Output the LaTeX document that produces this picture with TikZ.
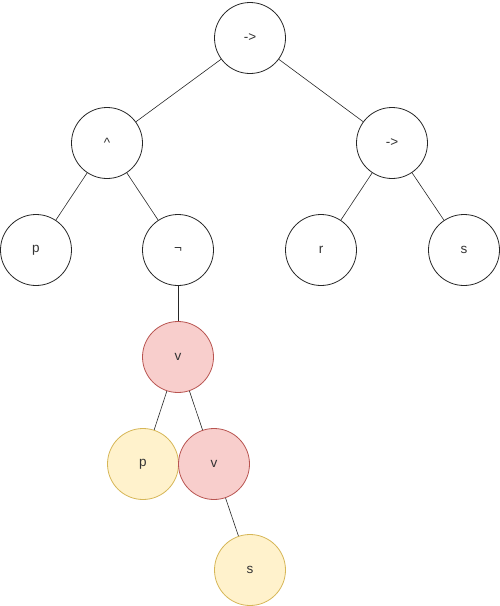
\documentclass[tikz,border=0pt]{standalone}
\usepackage{fontspec}
\setmainfont{Liberation Sans}
\definecolor{redfill}{HTML}{F8CECC}
\definecolor{redline}{HTML}{B85450}
\definecolor{yelfill}{HTML}{FFF2CC}
\definecolor{yelline}{HTML}{D6B656}
\definecolor{txt}{HTML}{333333}
\begin{document}
\begin{tikzpicture}[x=1pt,y=-1pt,
  tnode/.style={circle,draw=black!85,line width=0.8pt,minimum size=71pt,inner sep=0pt,font=\fontsize{13.5}{15}\selectfont,text=txt,fill=white},
  rednode/.style={tnode,fill=redfill,draw=redline},
  yelnode/.style={tnode,fill=yelfill,draw=yelline},
  edge/.style={draw=black!85,line width=0.6pt}]
\useasboundingbox (0,0) rectangle (500,606);
\node[tnode] (root) at (250,38) {->};
\node[tnode] (and) at (107,143) {\^{}};
\node[tnode] (imp) at (392,143) {->};
\node[tnode] (p1) at (36,250) {p};
\node[tnode] (neg) at (178,250) {¬};
\node[tnode] (r) at (321,250) {r};
\node[tnode] (s1) at (464,250) {s};
\node[rednode] (v1) at (178,357) {v};
\node[yelnode] (p2) at (143,464) {p};
\node[rednode] (v2) at (214,464) {v};
\node[yelnode] (s2) at (250,570) {s};
\draw[edge] (root) -- (and);
\draw[edge] (root) -- (imp);
\draw[edge] (and) -- (p1);
\draw[edge] (and) -- (neg);
\draw[edge] (imp) -- (r);
\draw[edge] (imp) -- (s1);
\draw[edge] (neg) -- (v1);
\draw[edge] (v1) -- (p2);
\draw[edge] (v1) -- (v2);
\draw[edge] (v2) -- (s2);
\end{tikzpicture}
\end{document}
